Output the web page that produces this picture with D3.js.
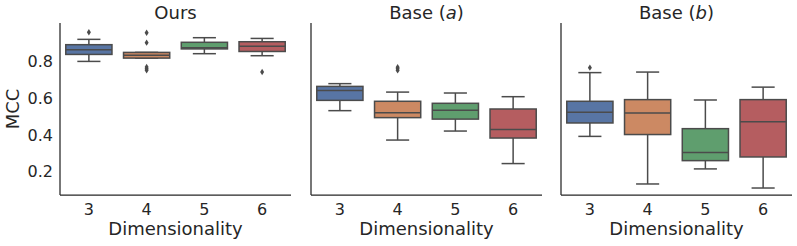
<!DOCTYPE html>
<html><head><meta charset="utf-8">
<script src="https://cdn.jsdelivr.net/npm/d3@7"></script>
<style>body{margin:0;background:#fff}svg{display:block;font-family:"DejaVu Sans",sans-serif}</style>
</head><body><svg id="c" width="797" height="246"></svg>
<script>
const categories = ["3","4","5","6"];
const panelTitles = ["Ours","Base (a)","Base (b)"];
const yTicks = [0.2,0.4,0.6,0.8];
// [whiskerLow, q1, median, q3, whiskerHigh]
const oursStats = [[0.800,0.838,0.864,0.891,0.920],[0.818,0.818,0.834,0.849,0.849],[0.842,0.868,0.874,0.904,0.929],[0.831,0.854,0.882,0.907,0.925]];
const oursOutliers = [[0.959],[0.956,0.902,0.770,0.760,0.752],[],[0.742]];
const baseAStats = [[0.532,0.588,0.642,0.664,0.679],[0.372,0.494,0.521,0.583,0.633],[0.421,0.486,0.534,0.572,0.628],[0.244,0.383,0.429,0.541,0.608]];
const baseAOutliers = [[],[0.768,0.760,0.751],[],[]];
const baseBStats = [[0.392,0.465,0.523,0.583,0.739],[0.133,0.402,0.519,0.592,0.742],[0.215,0.260,0.304,0.434,0.590],[0.111,0.280,0.472,0.592,0.660]];
const baseBOutliers = [[0.766],[],[],[]];
const colors = ["#5875a4","#cc8963","#5f9e6e","#b55d60"];

const panels = [
  {title: panelTitles[0], stats: oursStats, out: oursOutliers, x0: 60},
  {title: panelTitles[1], stats: baseAStats, out: baseAOutliers, x0: 311},
  {title: panelTitles[2], stats: baseBStats, out: baseBOutliers, x0: 561}
];
const W = 231, yTop = 23, yBottom = 195;
const svg = d3.select("#c");
const y = d3.scaleLinear().domain([0.073,1.009]).range([yBottom, yTop]);
const gray = "#4b4b4b", axisCol = "#262626";

panels.forEach((p,pi)=>{
  const g = svg.append("g");
  const x = d3.scaleBand().domain(categories).range([p.x0, p.x0+W]).padding(0);
  const bw = x.bandwidth()*0.8;
  categories.forEach((c,i)=>{
    const s = p.stats[i];
    const cx = x(c)+x.bandwidth()/2;
    const gg = g.append("g");
    gg.append("line").attr("x1",cx).attr("x2",cx).attr("y1",y(s[0])).attr("y2",y(s[1])).attr("stroke",gray).attr("stroke-width",1.5);
    gg.append("line").attr("x1",cx).attr("x2",cx).attr("y1",y(s[3])).attr("y2",y(s[4])).attr("stroke",gray).attr("stroke-width",1.5);
    gg.append("line").attr("x1",cx-bw/4).attr("x2",cx+bw/4).attr("y1",y(s[0])).attr("y2",y(s[0])).attr("stroke",gray).attr("stroke-width",1.5);
    gg.append("line").attr("x1",cx-bw/4).attr("x2",cx+bw/4).attr("y1",y(s[4])).attr("y2",y(s[4])).attr("stroke",gray).attr("stroke-width",1.5);
    gg.append("rect").attr("x",cx-bw/2).attr("width",bw).attr("y",y(s[3])).attr("height",Math.max(0.5,y(s[1])-y(s[3])))
      .attr("fill",colors[i]).attr("stroke",gray).attr("stroke-width",1.5);
    gg.append("line").attr("x1",cx-bw/2).attr("x2",cx+bw/2).attr("y1",y(s[2])).attr("y2",y(s[2])).attr("stroke",gray).attr("stroke-width",1.5);
    p.out[i].forEach(v=>{
      const yy = y(v);
      gg.append("path").attr("d",`M${cx},${yy-3.2}L${cx+2},${yy}L${cx},${yy+3.2}L${cx-2},${yy}Z`).attr("fill",gray);
    });
  });
  g.append("line").attr("x1",p.x0).attr("x2",p.x0).attr("y1",yTop).attr("y2",yBottom).attr("stroke",axisCol).attr("stroke-width",1.25);
  g.append("line").attr("x1",p.x0).attr("x2",p.x0+W).attr("y1",yBottom).attr("y2",yBottom).attr("stroke",axisCol).attr("stroke-width",1.25);
  categories.forEach(c=>{
    g.append("text").attr("x",x(c)+x.bandwidth()/2).attr("y",215).attr("text-anchor","middle")
      .attr("font-size",16).attr("fill",axisCol).text(c);
  });
  g.append("text").attr("x",p.x0+W/2).attr("y",235).attr("text-anchor","middle").attr("font-size",18).attr("fill",axisCol).text("Dimensionality");
  const t = g.append("text").attr("x",p.x0+W/2).attr("y",19).attr("text-anchor","middle").attr("font-size",18).attr("fill",axisCol);
  const m = p.title.match(/^(.*\()(.)(\))$/);
  if (m) {
    t.append("tspan").text(m[1]);
    t.append("tspan").attr("font-style","italic").text(m[2]);
    t.append("tspan").text(m[3]);
  } else t.text(p.title);
  if (pi===0) {
    yTicks.forEach(v=>{
      g.append("text").attr("x",53).attr("y",y(v)).attr("dy","0.36em").attr("text-anchor","end")
        .attr("font-size",16).attr("fill",axisCol).text(v.toFixed(1));
    });
    g.append("text").attr("transform",`translate(19,${(yTop+yBottom)/2}) rotate(-90)`).attr("text-anchor","middle")
      .attr("font-size",18).attr("fill",axisCol).text("MCC");
  }
});
</script></body></html>
